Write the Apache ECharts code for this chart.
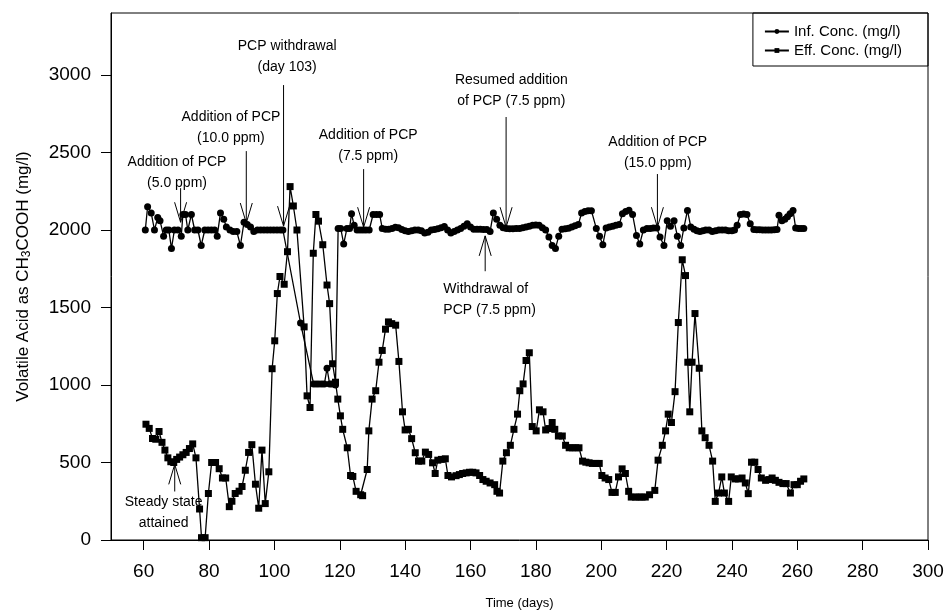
<!DOCTYPE html>
<html>
<head>
<meta charset="utf-8">
<script src="https://cdn.jsdelivr.net/npm/echarts@6/dist/echarts.min.js"></script>
<style>
  html, body { margin: 0; padding: 0; background: #fff; }
  #chart { width: 947px; height: 615px; }
</style>
</head>
<body>
<div id="chart"></div>
<script>
// tick labels
const xTicks = [60, 80, 100, 120, 140, 160, 180, 200, 220, 240, 260, 280, 300];
const yTicks = [0, 500, 1000, 1500, 2000, 2500, 3000];

// influent concentration (mg/l)
const infDays = [60.5, 61.2, 62.3, 63.3, 64.3, 65.0, 66.1, 66.9, 67.7, 68.5, 69.4, 70.5, 71.5, 72.0, 72.8,
  73.5, 74.6, 75.6, 76.6, 77.6, 78.7, 79.7, 80.7, 81.7, 82.5, 83.5, 84.5, 85.3, 86.4, 87.4, 88.5, 89.6,
  90.7, 91.7, 92.7, 93.7, 94.8, 95.8, 96.8, 97.8, 98.8, 99.8, 100.8, 101.8, 102.6,
  108.0, 112.0, 112.8, 113.6, 114.5, 115.3, 116.1, 116.9, 117.6, 118.7,
  119.5, 120.3, 121.2, 122.2, 123.0, 123.6, 124.4, 125.3, 126.2, 127.1, 128.0, 129.0, 130.2, 131.2, 132.2,
  133, 134, 135, 136, 137, 138, 139, 140, 141, 142, 143, 144, 145, 146, 147, 148, 149, 150, 151, 152,
  153, 154, 155, 156, 157, 158, 159, 160, 161, 162, 163, 164, 165, 166, 167, 168, 169, 170, 171, 172,
  173, 174, 175, 176, 177, 178, 179, 180, 181, 182, 183, 184, 185, 186, 187, 188, 189, 190, 191, 192,
  193, 194, 195, 196, 197, 198.5, 199.5, 200.5, 201.5, 202.5, 203.5, 204.5, 205.5, 206.5, 207.5, 208.5,
  209.6, 210.8, 211.8, 212.9, 214, 215, 216, 217, 218, 219.2, 220.2, 221.2, 222.3, 223.3, 224.3, 225.3,
  226.4, 227.4, 228.4, 229.3, 230.2, 231.1, 232, 233, 234, 235, 236, 237, 238, 239, 240, 240.8, 241.6,
  242.6, 243.6, 244.6, 245.6, 246.7, 247.6, 248.5, 249.4, 250.3, 251.2, 252.1, 253, 253.8, 254.4, 255.3,
  256.2, 257, 257.8, 258.7, 259.5, 260.4, 261.2, 262];
const infValues = [2000, 2150, 2110, 2000, 2080, 2060, 1960, 2000, 2000, 1880, 2000, 2000, 1960, 2100, 2100,
  2000, 2100, 2000, 2000, 1900, 2000, 2000, 2000, 2000, 1960, 2110, 2070, 2020, 2000, 1990, 1990, 1900,
  2050, 2035, 2020, 1990, 2000, 2000, 2000, 2000, 2000, 2000, 2000, 2000, 2000,
  1400, 1007, 1007, 1007, 1007, 1007, 1108, 1007, 1007, 1000,
  2010, 2010, 1910, 2010, 2010, 2105, 2030, 2000, 2000, 2000, 2000, 2000, 2100, 2100, 2100,
  2010, 2005, 2005, 2010, 2018, 2015, 2003, 1995, 1990, 1995, 2000, 2000, 1995, 1980, 1985, 2000, 2003, 2008, 2015, 2022,
  2000, 1980, 1990, 2000, 2010, 2025, 2040, 2020, 2005, 2005, 2005, 2003, 2003, 1990, 2110, 2070, 2030, 2015, 2010, 2008,
  2008, 2010, 2010, 2015, 2020, 2025, 2030, 2033, 2030, 2015, 2000, 1955, 1900, 1880, 1960, 2005, 2008, 2012, 2020, 2028,
  2035, 2110, 2120, 2125, 2125, 2010, 1960, 1905, 2013, 2020, 2025, 2030, 2035, 2105, 2120, 2128,
  2100, 1965, 1910, 2000, 2010, 2010, 2013, 2013, 1955, 1900, 2060, 2025, 2060, 1960, 1900, 2013,
  2126, 2020, 2005, 1995, 1990, 1995, 2000, 2000, 1990, 1995, 2000, 2000, 2000, 1995, 1995, 2000, 2030,
  2100, 2104, 2100, 2040, 2003, 2002, 2002, 2000, 2000, 2000, 2000, 2002, 2003, 2095, 2060,
  2070, 2085, 2105, 2126, 2013, 2010, 2010, 2010];

// effluent concentration (mg/l)
const effDays = [60.7, 61.7, 62.7, 63.7, 64.7, 65.6, 66.5, 67.4, 68.3, 69.2, 70.1, 71.0, 72.0, 73.0, 74.0,
  75.0, 76.0, 77.1, 77.7, 78.8, 79.8, 80.8, 82.0, 83.1, 84.1, 85.1, 86.2, 87.0, 88.0, 89.2, 90.1, 91.1,
  92.1, 93.1, 94.2, 95.2, 96.2, 97.2, 98.3, 99.3, 100.1, 100.9, 101.7, 103.0, 104.0, 104.8, 105.8, 106.9,
  109.1, 110.0, 110.9, 111.9, 112.7, 113.5, 114.8, 116.1, 116.9, 117.8, 118.7, 119.4, 120.2, 120.9, 122.3,
  123.3, 124.0, 125.0, 126.4, 127.0, 128.4, 128.9, 129.9, 131.0, 132.0, 133.0, 134.0, 134.9, 135.9, 137.1,
  138.1, 139.2, 140.0, 141.0, 142.0, 143.1, 144.1, 145.1, 146.2, 147.2, 148.4, 149.2, 150.0, 151.1, 152.3,
  153.1, 154.2, 155.6, 156.6, 157.6, 158.7, 159.7, 160.7, 161.7, 162.8, 163.8, 164.8, 166.0, 167.4, 168.1,
  168.9, 169.9, 171.0, 172.2, 173.3, 174.4, 175.1, 176.1, 177.0, 178.0, 178.9, 180.1, 181.1, 182.2, 183.0,
  184.0, 185.0, 185.8, 186.9, 188.1, 189.1, 190.2, 191.2, 192.2, 193.2, 194.3, 195.3, 196.3, 197.3, 198.4,
  199.4, 200.2, 201.2, 202.3, 203.3, 204.3, 205.3, 206.4, 207.4, 208.4, 209.2, 210.5, 211.5, 212.5, 213.5,
  214.8, 216.4, 217.4, 218.7, 219.7, 220.5, 221.5, 222.6, 223.6, 224.8, 225.8, 226.5, 227.1, 227.8, 228.7,
  230.0, 230.8, 231.8, 233.0, 234.1, 234.9, 235.9, 236.9, 237.7, 239.0, 239.8, 241.0, 242.0, 243.1, 244.1,
  245.0, 246.0, 247.0, 248.0, 249.0, 250.3, 251.3, 252.3, 253.3, 254.4, 255.6, 256.6, 257.9, 259.0, 260.0,
  261.0, 262.0];
const effValues = [747, 720, 655, 650, 700, 630, 580, 530, 505, 500, 520, 535, 550, 565, 590,
  620, 530, 200, 15, 15, 300, 500, 500, 460, 400, 400, 215, 250, 300, 315, 345, 450,
  565, 615, 360, 205, 580, 235, 440, 1105, 1285, 1590, 1700, 1650, 1860, 2280, 2155, 2000,
  1375, 930, 855, 1850, 2100, 2057, 1905, 1645, 1525, 1137, 1018, 909, 801, 714, 595,
  416, 410, 314, 292, 286, 455, 704, 909, 963, 1147, 1223, 1360, 1407, 1396, 1386,
  1152, 827, 710, 714, 654, 563, 509, 509, 567, 552, 498, 429, 515, 520, 524,
  416, 407, 415, 422, 429, 433, 437, 437, 433, 416, 390, 379, 368, 357, 314,
  303, 509, 563, 611, 714, 812, 963, 1007, 1158, 1208, 732, 704, 840, 827, 710,
  719, 758, 714, 671, 671, 611, 595, 595, 595, 595, 509, 502, 498, 494, 494,
  494, 416, 400, 390, 307, 307, 407, 459, 429, 314, 277, 277, 277, 277, 277,
  292, 320, 515, 611, 704, 812, 758, 957, 1403, 1808, 1706, 1147, 827, 1147, 1461,
  1108, 704, 660, 611, 509, 249, 303, 407, 303, 249, 407, 394, 394, 400, 368,
  299, 502, 502, 455, 400, 385, 390, 400, 385, 372, 364, 364, 303, 357, 357,
  379, 394];

// annotations: arrow at day, from tail to tip value; label anchored at first line
const notes = [
  { lines: ['Addition of PCP', '(5.0 ppm)'], day: 71.3, tail: 2270, tip: 2050, labelDay: 70.2, labelValue: 2438 },
  { lines: ['Addition of PCP', '(10.0 ppm)'], day: 91.4, tail: 2509, tip: 2045, labelDay: 86.7, labelValue: 2729 },
  { lines: ['PCP withdrawal', '(day 103)'], day: 102.8, tail: 2935, tip: 2025, labelDay: 103.9, labelValue: 3184 },
  { lines: ['Addition of PCP', '(7.5 ppm)'], day: 127.3, tail: 2393, tip: 2018, labelDay: 128.7, labelValue: 2613 },
  { lines: ['Resumed addition', 'of PCP (7.5 ppm)'], day: 170.9, tail: 2729, tip: 2018, labelDay: 172.5, labelValue: 2968 },
  { lines: ['Addition of PCP', '(15.0 ppm)'], day: 217.2, tail: 2361, tip: 2018, labelDay: 217.3, labelValue: 2567 },
  { lines: ['Withdrawal of', 'PCP (7.5 ppm)'], day: 164.5, tail: 1734, tip: 1962, labelDay: 151.7, labelValue: 1618, align: 'left' },
  { lines: ['Steady state', 'attained'], day: 69.5, tail: 313, tip: 488, labelDay: 66.1, labelValue: 242 }
];

const FONT = '"Liberation Sans", Arial, sans-serif';
const chart = echarts.init(document.getElementById('chart'));

function pairs(days, values) {
  return days.map((d, i) => [d, values[i]]);
}

chart.setOption({
  animation: false,
  backgroundColor: '#fff',
  grid: { left: 111, right: 19, top: 13, bottom: 74, show: true, borderColor: '#000', borderWidth: 1 },
  legend: {
    orient: 'vertical',
    right: 19,
    top: 13,
    itemWidth: 24,
    itemHeight: 6,
    itemGap: 4,
    padding: [11, 26, 8, 11],
    borderColor: '#000',
    borderWidth: 1,
    textStyle: { fontFamily: FONT, fontSize: 15, color: '#000' },
    data: ['Inf. Conc. (mg/l)', 'Eff. Conc. (mg/l)']
  },
  xAxis: {
    type: 'value',
    min: 50,
    max: 300,
    name: 'Time (days)',
    nameLocation: 'middle',
    nameGap: 57,
    nameTextStyle: { fontFamily: FONT, fontSize: 13, color: '#000' },
    axisLine: { lineStyle: { color: '#000', width: 1 } },
    axisTick: { customValues: xTicks, length: 10, lineStyle: { color: '#000' } },
    axisLabel: { customValues: xTicks, margin: 22, fontFamily: FONT, fontSize: 19, color: '#000', formatter: v => String(v) },
    splitLine: { show: false }
  },
  yAxis: {
    type: 'value',
    min: 0,
    max: 3400,
    name: 'Volatile Acid as CH{sub|3}COOH (mg/l)',
    nameLocation: 'middle',
    nameGap: 78,
    nameTextStyle: {
      fontFamily: FONT, fontSize: 17, color: '#000',
      rich: { sub: { fontFamily: FONT, fontSize: 12, color: '#000', verticalAlign: 'bottom', padding: [7, 0, 0, 0] } }
    },
    axisLine: { show: true, lineStyle: { color: '#000', width: 1 } },
    axisTick: { show: true, customValues: yTicks, length: 10, lineStyle: { color: '#000' } },
    axisLabel: { customValues: yTicks, margin: 20, fontFamily: FONT, fontSize: 19, color: '#000', formatter: v => String(v) },
    splitLine: { show: false }
  },
  series: [
    {
      name: 'Inf. Conc. (mg/l)',
      type: 'line',
      data: pairs(infDays, infValues),
      symbol: 'circle',
      symbolSize: 7,
      itemStyle: { color: '#000' },
      lineStyle: { color: '#000', width: 1.3 },
      z: 3
    },
    {
      name: 'Eff. Conc. (mg/l)',
      type: 'line',
      data: pairs(effDays, effValues),
      symbol: 'rect',
      symbolSize: 7,
      itemStyle: { color: '#000' },
      lineStyle: { color: '#000', width: 1.3 },
      z: 3
    }
  ]
});

// arrows and their labels, placed through the grid's scales
const els = [];
notes.forEach(n => {
  const tip = chart.convertToPixel({ gridIndex: 0 }, [n.day, n.tip]);
  const tail = chart.convertToPixel({ gridIndex: 0 }, [n.day, n.tail]);
  const dir = tail[1] < tip[1] ? 1 : -1;
  els.push({
    type: 'line', z: 10,
    shape: { x1: tail[0], y1: tail[1], x2: tip[0], y2: tip[1] },
    style: { stroke: '#000', lineWidth: 1 }
  });
  els.push({
    type: 'polyline', z: 10,
    shape: { points: [[tip[0] - 6, tip[1] - dir * 20], [tip[0], tip[1]], [tip[0] + 6, tip[1] - dir * 20]] },
    style: { stroke: '#000', fill: null, lineWidth: 1 }
  });
  const lab = chart.convertToPixel({ gridIndex: 0 }, [n.labelDay, n.labelValue]);
  n.lines.forEach((t, i) => {
    els.push({
      type: 'text', z: 10,
      x: lab[0], y: lab[1] + i * 21,
      style: { text: t, font: '14px ' + FONT, fill: '#000', align: n.align || 'center', verticalAlign: 'middle' }
    });
  });
});
chart.setOption({ graphic: els });
</script>
</body>
</html>
